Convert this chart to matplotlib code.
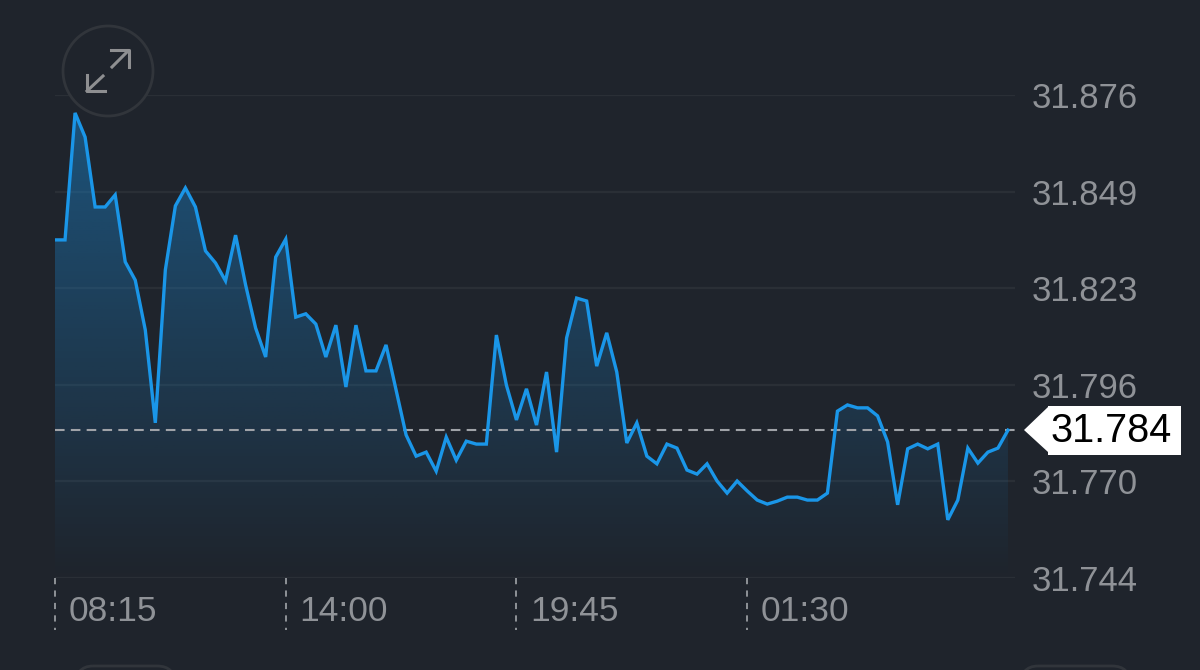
import numpy as np
import matplotlib
matplotlib.use('Agg')
import matplotlib.pyplot as plt
from matplotlib.patches import Circle, Polygon, Rectangle, FancyBboxPatch

plt.rcParams['font.family'] = ['Liberation Sans', 'DejaVu Sans']

BG = '#1f242c'
GRID = '#2a2f36'
TEXT = '#8f9297'
LINE = '#1a96e8'

# one price every 15 minutes
prices = [
    31.8364, 31.8364, 31.8711, 31.8645, 31.8454, 31.8454, 31.8487, 31.8304,
    31.8254, 31.8118, 31.7864, 31.8282, 31.8457, 31.8506, 31.8454, 31.8334,
    31.8301, 31.8252, 31.8377, 31.8241, 31.8123, 31.8044, 31.8317, 31.8366,
    31.8153, 31.8162, 31.8134, 31.8044, 31.8131, 31.7962, 31.8131, 31.8006,
    31.8006, 31.8077, 31.7954, 31.7831, 31.7773, 31.7784, 31.7732, 31.7825,
    31.7762, 31.7814, 31.7806, 31.7806, 31.8104, 31.7967, 31.7872, 31.7957,
    31.7858, 31.8003, 31.7784, 31.8096, 31.8205, 31.8197, 31.8019, 31.8110,
    31.8003, 31.7809, 31.7864, 31.7773, 31.7752, 31.7806, 31.7795, 31.7735,
    31.7724, 31.7752, 31.7705, 31.7672, 31.7705, 31.7678, 31.7653, 31.7642,
    31.7650, 31.7661, 31.7661, 31.7653, 31.7653, 31.7672, 31.7896, 31.7913,
    31.7905, 31.7905, 31.7883, 31.7812, 31.7640, 31.7793, 31.7806, 31.7793,
    31.7806, 31.7599, 31.7653, 31.7795, 31.7754, 31.7784, 31.7795, 31.7844,
]
last_price = 31.7844
last_label = '31.784'
y_ticks = [31.744, 31.7704, 31.7968, 31.8232, 31.8496, 31.876]
y_labels = ['31.744', '31.770', '31.796', '31.823', '31.849', '31.876']
x_ticks = [0, 23, 46, 69]
x_labels = ['08:15', '14:00', '19:45', '01:30']

fig = plt.figure(figsize=(12, 6.7), dpi=100, facecolor=BG)
ax = fig.add_axes([55 / 1200, 92 / 670, 960 / 1200, 483 / 670], facecolor=BG)

x = np.arange(len(prices))
ax.set_xlim(0, 95.7)
ax.set_ylim(31.744, 31.876)

# gradient under the line, clipped to the price polygon
grad = np.zeros((256, 2, 4))
grad[..., :3] = matplotlib.colors.to_rgb('#1a86d0')
grad[..., 3] = np.linspace(0.5, 0.0, 256)[:, None]
im = ax.imshow(grad, extent=[0, 95.7, 31.744, 31.876], origin='upper',
               aspect='auto', zorder=1)
clip = Polygon(np.column_stack([np.r_[x[0], x, x[-1]],
                                np.r_[31.744, prices, 31.744]]),
               transform=ax.transData, fc='none', ec='none')
ax.add_patch(clip)
im.set_clip_path(clip)

ax.plot(x, prices, color=LINE, lw=2.4, solid_joinstyle='miter', zorder=3)
ax.axhline(last_price, color='#a0a3a8', lw=1.5, dashes=(4.6, 3), zorder=2)

# axes
for s in ax.spines.values():
    s.set_visible(False)
ax.grid(axis='y', color=GRID, lw=1.6, zorder=0)
ax.set_axisbelow(True)
ax.yaxis.tick_right()
ax.set_yticks(y_ticks)
ax.set_yticklabels(y_labels, fontsize=25, color=TEXT)
ax.tick_params(axis='y', length=0, pad=12)
ax.set_xticks([])

trans = ax.get_xaxis_transform()
for t, lab in zip(x_ticks, x_labels):
    ax.plot([t, t], [0, -52 / 483], transform=trans, clip_on=False,
            color='#8f9297', lw=1.4, dashes=(3.2, 3.2), zorder=2)
    ax.annotate(lab, xy=(t, 0), xycoords=trans, xytext=(10, -24),
                textcoords='offset points', ha='left', va='center',
                fontsize=25.5, color=TEXT)

# screen furniture in pixel coordinates
ui = fig.add_axes([0, 0, 1, 1], facecolor='none')
ui.set_xlim(0, 1200)
ui.set_ylim(670, 0)
ui.axis('off')

ui.add_patch(Circle((108, 71), 45, fc=BG, ec='#31353b', lw=2))
ARROW = '#8e8f91'
ui.plot([112, 128], [67, 51], color=ARROW, lw=2.2)
ui.plot([111, 128.5, 128.5], [50, 50, 67], color=ARROW, lw=2.2)
ui.plot([103, 87], [76, 91], color=ARROW, lw=2.2)
ui.plot([87, 87, 105], [75, 91, 91], color=ARROW, lw=2.2)

ui.add_patch(Polygon([(1024, 430), (1048, 407), (1048, 452)], fc='white', ec='none'))
ui.add_patch(Rectangle((1048, 406), 133, 49, fc='white', ec='none'))
ui.text(1050, 431, last_label, fontsize=28.5, color='black', ha='left', va='center')

for bx, bw in [(75, 100), (1020, 110)]:
    ui.add_patch(FancyBboxPatch((bx, 666), bw, 40,
                                boxstyle='round,pad=0,rounding_size=18',
                                fc='none', ec='#31353b', lw=2))

fig.savefig('out.png', dpi=100, facecolor=BG)
